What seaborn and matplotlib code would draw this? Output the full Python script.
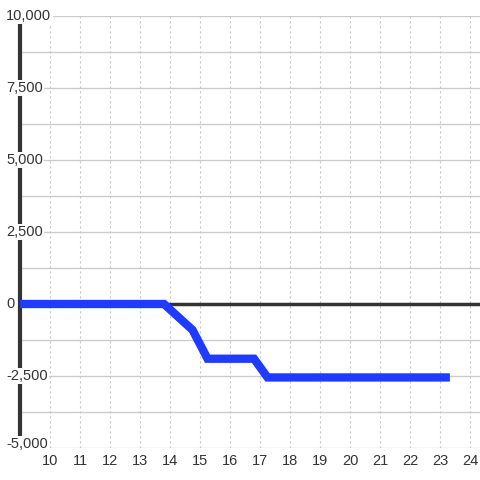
import matplotlib
matplotlib.use('Agg')
import matplotlib.pyplot as plt
import matplotlib.transforms as mtransforms
import seaborn as sns

# data
hours = [9.0, 13.8, 14.75, 15.25, 16.8, 17.25, 23.33]
values = [0, 0, -900, -1900, -1900, -2550, -2550]
x_ticks = list(range(10, 25))
y_labels = [10000, 7500, 5000, 2500, 0, -2500, -5000]
y_grid = [v * 1250 for v in range(-4, 9)]

sns.set_style('white')
plt.rcParams['font.family'] = ['Liberation Sans', 'DejaVu Sans']

fig = plt.figure(figsize=(4.8, 4.8), dpi=100)
ax = fig.add_axes([20 / 480, 32 / 480, 460 / 480, 432 / 480])

sns.lineplot(x=hours, y=values, ax=ax, color='#1f3bff', linewidth=6,
             zorder=5, clip_on=False, solid_capstyle='butt',
             solid_joinstyle='miter')

ax.set_xlim(9, 24.333)
ax.set_ylim(-5000, 10000)

# grid
for v in y_grid:
    ax.axhline(v, color='#cccccc', lw=1, zorder=1)
for t in x_ticks:
    ax.axvline(t, color='#c8c8c8', lw=0.8, ls=(0, (2, 2.5)), zorder=1)
ax.axhline(0, color='#333333', lw=2.5, zorder=2)

for s in ['top', 'right', 'bottom']:
    ax.spines[s].set_visible(False)
ax.spines['left'].set_color('#333333')
ax.spines['left'].set_linewidth(3)
ax.spines['left'].set_zorder(2.5)

ax.set_yticks([])
ax.set_xticks(x_ticks)
ax.set_xticklabels([str(t) for t in x_ticks])
ax.tick_params(axis='x', length=0, pad=4, labelsize=10.5, colors='#333333')

trans = mtransforms.blended_transform_factory(fig.transFigure, ax.transData)
for v in y_labels:
    if v == y_labels[-1]:
        tr = mtransforms.offset_copy(trans, fig=fig, y=-3, units='dots')
        va = 'bottom'
    else:
        tr = trans
        va = 'center'
    ax.text(6 / 480, v, f'{v:,}', transform=tr, ha='left', va=va,
            fontsize=10.5, color='#333333', zorder=6,
            bbox=dict(facecolor='white', edgecolor='none', pad=1.0))

fig.savefig('out.png', dpi=100, facecolor='white')
